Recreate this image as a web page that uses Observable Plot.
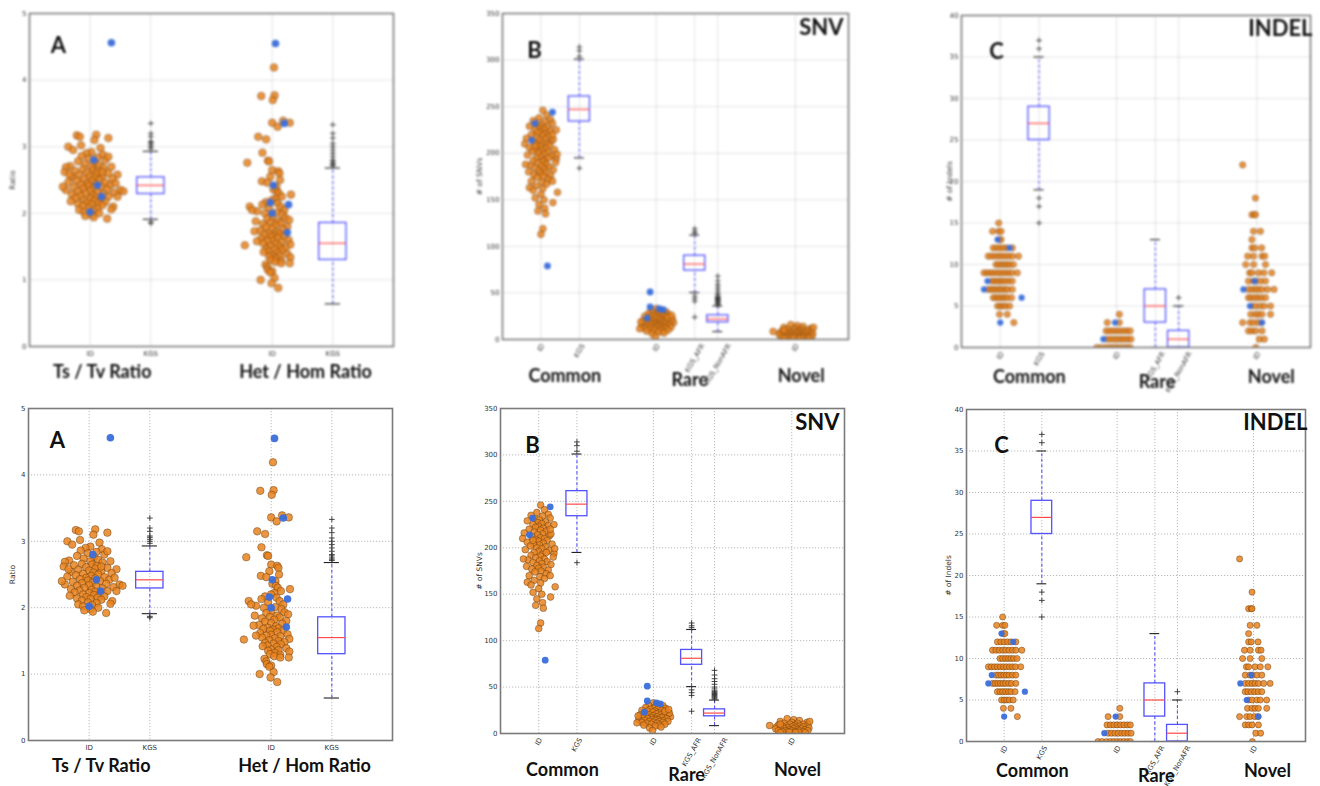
<!DOCTYPE html>
<html><head><meta charset="utf-8">
<script src="https://cdn.jsdelivr.net/npm/d3@7"></script>
<script src="https://cdn.jsdelivr.net/npm/@observablehq/plot@0.6"></script>
<style>
html,body{margin:0;padding:0;background:#fff;}
#fig{position:relative;width:1320px;height:786px;overflow:hidden;background:#fff;}
.panel{position:absolute;width:440px;height:393px;}
.blurred{filter:blur(0.8px);}
</style></head><body><div id="fig"></div>
<script>
// ---------------- DATA ----------------
// Panel A: [value, jitter]
const tstvID = [[3.00,-0.36],[3.17,-0.22],[3.18,0.10],[3.13,0.30],[3.15,-0.17],[3.10,0.07],[3.02,-0.15],[2.98,0.17],[2.95,-0.28],[2.92,0.02],[2.90,-0.06],[2.88,0.21],[2.86,-0.14],[2.84,0.12],[2.82,-0.02],[2.80,0.25],[2.78,-0.2],[2.76,0.08],[2.74,-0.09],[2.72,0.15],[2.71,-0.33],[2.70,0.02],[2.69,-0.4],[2.68,0.22],[2.66,-0.12],[2.65,0.05],[2.64,-0.25],[2.63,0.13],[2.62,-0.42],[2.61,-0.05],[2.60,0.3],[2.59,0.1],[2.58,0.45],[2.57,-0.18],[2.56,0.0],[2.55,0.2],[2.54,-0.3],[2.53,0.07],[2.52,0.37],[2.51,-0.1],[2.50,0.15],[2.49,-0.22],[2.48,0.03],[2.47,-0.36],[2.46,0.25],[2.45,-0.05],[2.44,0.1],[2.43,-0.15],[2.42,0.33],[2.41,-0.02],[2.40,0.18],[2.39,-0.27],[2.38,0.06],[2.37,-0.12],[2.36,0.28],[2.35,-0.4],[2.35,0.5],[2.34,0.0],[2.33,-0.2],[2.32,0.12],[2.31,0.4],[2.30,-0.08],[2.29,0.22],[2.28,-0.3],[2.27,0.04],[2.26,-0.16],[2.25,0.3],[2.24,0.1],[2.23,-0.24],[2.22,0.0],[2.21,0.18],[2.20,-0.1],[2.19,0.08],[2.18,-0.32],[2.17,0.25],[2.16,-0.05],[2.15,0.14],[2.14,-0.2],[2.13,0.02],[2.12,0.2],[2.11,-0.12],[2.10,0.38],[2.08,-0.02],[2.07,0.12],[2.06,0.35],[2.05,-0.18],[2.04,0.05],[2.02,-0.1],[2.00,0.15],[1.98,0.02],[1.96,-0.08],[1.94,0.06],[1.92,0.28],[2.25,0.45],[2.58,-0.34],[2.70,0.35],[2.45,0.42],[2.85,0.3],[2.62,0.2],[2.40,-0.45],[2.33,0.55]];
const tstvHighlight = [[4.56,0.35],[2.80,0.06],[2.42,0.12],[2.25,0.19],[2.02,0.0]];
const hethomID = [[4.19,0.03],[3.76,-0.18],[3.77,0.04],[3.70,0.01],[3.36,0.0],[3.39,0.18],[3.36,0.29],[3.30,0.09],[3.15,-0.23],[3.11,-0.1],[2.91,-0.16],[2.76,-0.41],[2.79,-0.07],[2.78,-0.05],[2.65,0.0],[2.63,0.1],[2.60,0.12],[2.55,-0.03],[2.50,0.13],[2.48,-0.17],[2.46,-0.08],[2.40,0.07],[2.36,0.02],[2.33,0.08],[2.30,0.11],[2.28,0.31],[2.25,0.16],[2.22,0.05],[2.20,0.0],[2.17,-0.1],[2.15,0.09],[2.13,-0.16],[2.10,-0.37],[2.10,0.14],[2.08,-0.05],[2.05,0.2],[2.03,-0.25],[2.01,0.07],[2.00,-0.12],[1.98,0.17],[1.95,0.0],[1.93,0.22],[1.92,-0.08],[1.90,0.28],[1.88,-0.27],[1.88,0.1],[1.86,-0.02],[1.85,0.14],[1.84,-0.15],[1.82,0.05],[1.80,0.25],[1.79,-0.1],[1.77,0.0],[1.76,0.18],[1.74,-0.2],[1.73,-0.29],[1.72,0.08],[1.70,-0.06],[1.69,0.12],[1.68,-0.13],[1.67,0.03],[1.66,0.2],[1.65,-0.02],[1.63,0.1],[1.62,-0.18],[1.60,0.27],[1.59,0.0],[1.58,-0.08],[1.57,0.15],[1.55,-0.15],[1.54,0.06],[1.53,0.3],[1.52,-0.45],[1.51,-0.03],[1.50,0.12],[1.48,0.22],[1.47,-0.1],[1.46,0.04],[1.45,0.16],[1.43,-0.06],[1.42,-0.14],[1.41,0.09],[1.39,0.25],[1.37,0.0],[1.36,0.12],[1.35,-0.05],[1.34,0.3],[1.32,0.06],[1.30,-0.02],[1.29,0.15],[1.27,0.05],[1.25,0.29],[1.25,0.15],[1.23,-0.11],[1.19,-0.08],[1.15,-0.07],[1.13,0.0],[1.11,-0.03],[1.03,0.04],[1.00,-0.19],[0.95,-0.01],[0.88,0.1],[2.05,-0.33],[1.58,-0.25]];
const hethomHighlight = [[4.55,0.055],[3.35,0.2],[2.42,0.02],[2.16,-0.03],[2.13,0.27],[2.00,0.0],[1.71,0.25]];
// box stats: [lower whisker, Q1, median, Q3, upper whisker]
const tstvKGS = [1.91, 2.29, 2.42, 2.54, 2.93];
const tstvKGSOutliers = [2.97, 3.0, 3.03, 3.06, 3.08, 3.15, 3.2, 3.35, 1.87, 1.85];
const hethomKGS = [0.64, 1.30, 1.55, 1.855, 2.68];
const hethomKGSOutliers = [2.71, 2.73, 2.75, 2.78, 2.8, 2.85, 2.9, 2.95, 3.0, 3.05, 3.13, 3.2, 3.33];

// Panel B (SNV)
const commonSnvID = [[246,0.05],[241,0.15],[238,-0.05],[236,0.25],[235,-0.2],[234,0.1],[232,0.3],[231,-0.1],[230,0.02],[229,-0.3],[228,0.18],[227,-0.02],[226,0.08],[225,-0.15],[224,0.25],[223,0.0],[222,-0.08],[221,0.12],[220,-0.25],[219,0.05],[218,0.2],[217,-0.12],[216,-0.38],[215,0.1],[214,-0.03],[213,0.28],[212,-0.18],[211,0.04],[210,-0.42],[210,0.15],[209,-0.08],[208,0.22],[207,0.0],[206,-0.3],[205,0.12],[204,-0.14],[204,0.35],[203,0.02],[202,-0.22],[201,0.18],[200,-0.05],[199,0.08],[198,-0.35],[197,0.28],[196,0.0],[195,-0.12],[194,0.4],[193,0.1],[192,-0.2],[191,0.05],[190,0.38],[189,-0.08],[188,0.15],[187,-0.28],[186,0.02],[185,0.22],[184,-0.15],[183,0.08],[182,0.32],[181,-0.05],[180,-0.32],[179,0.12],[178,0.0],[177,-0.18],[176,0.25],[175,0.06],[174,-0.1],[172,0.2],[170,-0.25],[169,0.03],[167,0.15],[165,-0.12],[163,-0.3],[162,0.05],[160,-0.2],[158,0.43],[156,0.0],[152,-0.15],[150,0.08],[147,0.31],[145,-0.05],[141,0.1],[138,-0.08],[135,0.12],[119,0.05],[113,0.0],[199,0.42],[215,0.32],[225,0.4],[188,-0.4],[170,0.3],[195,0.2],[208,-0.15],[220,0.3]];
const commonSnvHighlight = [[244,0.3],[232,-0.16],[214,-0.24],[79,0.17]];
const rareSnvID = [[33,0.0],[31,0.1],[30,-0.12],[30,0.25],[29,0.05],[28,-0.2],[28,0.18],[27,0.0],[27,0.32],[26,-0.08],[26,0.12],[25,-0.3],[25,0.22],[24,0.04],[24,-0.15],[23,0.3],[23,-0.02],[22,0.14],[22,-0.22],[21,0.08],[21,0.4],[20,-0.1],[20,0.2],[20,-0.35],[19,0.0],[19,0.28],[18,-0.18],[18,0.1],[18,0.45],[17,-0.05],[17,0.22],[17,-0.28],[16,0.05],[16,0.35],[16,-0.15],[15,0.12],[15,-0.38],[15,-0.02],[14,0.25],[14,-0.22],[14,0.06],[13,-0.1],[13,0.16],[13,0.38],[12,-0.3],[12,0.0],[12,0.25],[11.5,-0.43],[11,0.1],[11,-0.18],[10,0.3],[10,-0.05],[9,0.15],[9,-0.25],[8,0.05],[7,0.2],[6,-0.1],[3.2,-0.02],[22,0.42],[19,-0.4],[24,0.3],[26,0.4]];
const rareSnvHighlight = [[51,-0.16],[35,-0.16],[33,0.08],[32,0.18],[23,-0.24]];
const novelSnvID = [[8.6,-0.58],[16,-0.12],[15,0.05],[14,0.2],[13,-0.3],[12,0.4],[12,0.0],[11,-0.2],[11,0.15],[10,0.3],[10,-0.05],[9,-0.35],[9,0.1],[9,0.42],[8,-0.15],[8,0.22],[8,0.05],[7,-0.4],[7,0.0],[7,0.3],[7,-0.22],[6,0.12],[6,-0.1],[6,0.45],[6,-0.3],[5,0.05],[5,0.25],[5,-0.2],[5,-0.42],[4,0.15],[4,-0.05],[4,0.35],[4,-0.28],[3,0.0],[3,0.2],[3,-0.15],[3,0.42],[3,-0.35],[2,0.08],[2,-0.1],[2,0.3],[2,-0.25],[1.5,0.18],[1.5,-0.05],[1,0.35],[1,-0.3],[1,0.1],[13,0.47],[10,-0.3]];
const commonSnvKGS = [195, 234, 247, 261, 301];
const commonSnvKGSOutliers = [304, 310, 314, 184];
const rareSnvAFR = [50.5, 74, 81, 90, 112];
const rareSnvAFROutliers = [114, 116, 119, 47, 44, 41, 24];
const rareSnvNonAFR = [8.5, 18.5, 22, 26, 36];
const rareSnvNonAFROutliers = [37, 38, 39, 40, 41, 42, 43, 44, 45, 46, 48, 50, 53, 56, 59, 63, 68];

// Panel C (INDEL)
const commonIndelID = [[15,-0.04],[14,-0.2],[14,-0.04],[14,0.02],[13,-0.02],[13,0.02],
 [12,-0.18],[12,-0.09],[12,0.0],[12,0.09],[12,0.18],[12,0.31],
 [11,-0.31],[11,-0.22],[11,-0.13],[11,-0.04],[11,0.04],[11,0.13],[11,0.22],[11,0.31],[11,0.47],
 [10,-0.11],[10,-0.04],[10,0.04],[10,0.11],[10,0.18],[10,0.25],[10,0.34],
 [9,-0.42],[9,-0.34],[9,-0.26],[9,-0.18],[9,-0.1],[9,-0.02],[9,0.06],[9,0.14],[9,0.22],[9,0.3],[9,0.44],
 [8,-0.22],[8,-0.15],[8,-0.08],[8,-0.01],[8,0.06],[8,0.13],[8,0.22],[8,0.31],
 [7,-0.31],[7,-0.24],[7,-0.17],[7,-0.1],[7,-0.03],[7,0.04],[7,0.12],[7,0.19],[7,0.31],
 [6,-0.18],[6,-0.11],[6,-0.04],[6,0.04],[6,0.11],[6,0.18],[6,0.29],
 [5,-0.07],[5,0.0],[5,0.07],[5,0.14],[5,0.24],[4,-0.02],[4,0.18],[3,0.35]];
const commonIndelHighlight = [[13,-0.07],[12,0.24],[8,-0.33],[7,-0.42],[6,0.55],[3,0.0]];
const rareIndelID = [[4,0.07],[3,-0.24],[3,0.07],
 [2,-0.27],[2,-0.18],[2,-0.09],[2,0.0],[2,0.09],[2,0.18],[2,0.27],[2,0.35],
 [1,-0.24],[1,-0.15],[1,-0.06],[1,0.03],[1,0.12],[1,0.2],[1,0.29],[1,0.37],
 [0,-0.51],[0,-0.4],[0,-0.28],[0,-0.18],[0,-0.09],[0,0.0],[0,0.09],[0,0.18],[0,0.27],[0,0.35]];
const rareIndelHighlight = [[3,-0.04],[1,-0.34]];
const novelIndelID = [[22,-0.37],[18,-0.04],[16,-0.13],[16,-0.06],[16,-0.04],[14,-0.09],[14,0.09],[13,-0.13],
 [12,-0.13],[12,-0.06],[12,0.12],[11,-0.24],[11,-0.09],[11,0.13],[11,0.2],[10,-0.29],[10,-0.09],[10,0.22],
 [9,-0.19],[9,-0.13],[9,0.04],[9,0.18],[9,0.38],[8,-0.22],[8,-0.09],[8,-0.03],[8,0.09],[8,0.22],
 [7,-0.22],[7,-0.13],[7,-0.04],[7,0.04],[7,0.13],[7,0.27],[7,0.44],
 [6,-0.22],[6,-0.15],[6,-0.06],[6,0.03],[6,0.12],[6,0.22],
 [5,-0.13],[5,-0.04],[5,0.09],[5,0.18],[5,0.35],[4,-0.16],[4,-0.04],[4,0.04],[4,0.13],[4,0.35],
 [3,-0.37],[3,-0.18],[3,-0.09],[3,0.03],[3,0.12],[2,-0.22],[2,-0.13],[2,-0.04],[2,0.13],[1,0.06],[1,0.19],[0,-0.03]];
const novelIndelHighlight = [[8,-0.06],[7,-0.35],[5,-0.18],[3,0.13]];
const commonIndelKGS = [19, 25, 27, 29, 35];
const commonIndelKGSOutliers = [36, 37, 18, 17, 15];
const rareIndelAFR = [0, 3, 5, 7, 13];
const rareIndelAFROutliers = [];
const rareIndelNonAFR = [0, 0, 1, 2, 5];
const rareIndelNonAFROutliers = [6];

// tick labels and titles
const tickLabelsA = ["ID", "KGS", "ID", "KGS"];
const tickLabelsBC = ["ID", "KGS", "ID", "KGS_AFR", "KGS_NonAFR", "ID"];
const groupLabelsA = ["Ts / Tv Ratio", "Het / Hom Ratio"];
const groupLabelsBC = ["Common", "Rare", "Novel"];
const yTicksA = [0, 1, 2, 3, 4, 5];
const yTicksB = [0, 50, 100, 150, 200, 250, 300, 350];
const yTicksC = [0, 5, 10, 15, 20, 25, 30, 35, 40];

// ---------------- LAYOUT ----------------
const ORANGE = "#e8831f", BLUE = "#3a6edb", BOXBLUE = "#5252ff", MEDRED = "#ff4a4a";
const posA = [1, 2, 4, 5], posBC = [1, 2, 4, 5, 5.6, 7.62];

const panels = {
  A: {xDomain: [0, 6], yDomain: [0, 5], yTicks: yTicksA, ticks: posA, tickLabels: tickLabelsA, rotate: false,
      yLabel: "Ratio", letter: "A", letterDx: 29, letterDy: 32, r: 3.8, bw: 0.225, cw: 0.125,
      scatter: [{pos: 1, pts: tstvID, hi: tstvHighlight}, {pos: 4, pts: hethomID, hi: hethomHighlight}],
      boxes: [{pos: 2, s: tstvKGS, out: tstvKGSOutliers}, {pos: 5, s: hethomKGS, out: hethomKGSOutliers}],
      groups: [{x: 1.2, label: groupLabelsA[0], rare: false}, {x: 4.55, label: groupLabelsA[1], rare: false}]},
  B: {xDomain: [0, 9], yDomain: [0, 350], yTicks: yTicksB, ticks: posBC, tickLabels: tickLabelsBC, rotate: true,
      yLabel: "# of SNVs", letter: "B", letterDx: 32, letterDy: 37, corner: "SNV", cornerDx: -5, cornerDy: 14, r: 3.4, bw: 0.275, cw: 0.13,
      scatter: [{pos: 1, pts: commonSnvID, hi: commonSnvHighlight}, {pos: 4, pts: rareSnvID, hi: rareSnvHighlight}, {pos: 7.62, pts: novelSnvID, hi: []}],
      boxes: [{pos: 2, s: commonSnvKGS, out: commonSnvKGSOutliers}, {pos: 5, s: rareSnvAFR, out: rareSnvAFROutliers}, {pos: 5.6, s: rareSnvNonAFR, out: rareSnvNonAFROutliers}],
      groups: [{x: 1.62, label: groupLabelsBC[0]}, {x: 4.87, label: groupLabelsBC[1], rare: true}, {x: 7.77, label: groupLabelsBC[2]}]},
  C: {xDomain: [0, 9], yDomain: [0, 40], yTicks: yTicksC, ticks: posBC, tickLabels: tickLabelsBC, rotate: true,
      yLabel: "# of Indels", letter: "C", letterDx: 35, letterDy: 36, corner: "INDEL", cornerDx: 2, cornerDy: 13, r: 3.1, bw: 0.275, cw: 0.13,
      scatter: [{pos: 1, pts: commonIndelID, hi: commonIndelHighlight}, {pos: 4, pts: rareIndelID, hi: rareIndelHighlight}, {pos: 7.62, pts: novelIndelID, hi: novelIndelHighlight}],
      boxes: [{pos: 2, s: commonIndelKGS, out: commonIndelKGSOutliers}, {pos: 5, s: rareIndelAFR, out: rareIndelAFROutliers}, {pos: 5.6, s: rareIndelNonAFR, out: rareIndelNonAFROutliers}],
      groups: [{x: 1.75, label: groupLabelsBC[0]}, {x: 5.04, label: groupLabelsBC[1], rare: true}, {x: 7.99, label: groupLabelsBC[2]}]}
};

const placements = [
  {key: "A", left: 0,   top: 0,   blur: true,  m: [13, 47, 47, 29], gdy: 26, rdy: 26, ylDx: -17},
  {key: "B", left: 440, top: 0,   blur: true,  m: [13, 32, 54, 62], gdy: 37, rdy: 41, ylDx: -23},
  {key: "C", left: 880, top: 0,   blur: true,  m: [15, 10, 46, 81], gdy: 30, rdy: 35, ylDx: -12},
  {key: "A", left: 0,   top: 393, blur: false, m: [15, 48, 46, 28], gdy: 26, rdy: 26, ylDx: -16},
  {key: "B", left: 440, top: 393, blur: false, m: [15, 36, 53, 60], gdy: 37, rdy: 42, ylDx: -21},
  {key: "C", left: 880, top: 393, blur: false, m: [16, 15, 45, 86], gdy: 30, rdy: 35, ylDx: -18}
];

const ctx = document.createElement("canvas").getContext("2d");
ctx.font = "7px 'DejaVu Sans'";
const TICKFONT = "DejaVu Sans", TITLEFONT = "Lato";

function makePanel(cfg, pl) {
  const grid = {stroke: "#a8a8a8", strokeOpacity: 1, strokeDasharray: "1.2,1.8", strokeWidth: 0.8};
  const marks = [
    Plot.gridY(cfg.yTicks, grid),
    Plot.gridX(cfg.ticks, grid)
  ];
  const boxRows = cfg.boxes.map(b => ({pos: b.pos, lo: b.s[0], q1: b.s[1], med: b.s[2], q3: b.s[3], hi: b.s[4]}));
  const outRows = cfg.boxes.flatMap(b => b.out.map(v => ({pos: b.pos, v})));
  const bw = cfg.bw, cw = cfg.cw;
  marks.push(
    Plot.ruleX(boxRows, {x: "pos", y1: "q3", y2: "hi", stroke: BOXBLUE, strokeWidth: 1.1, strokeDasharray: "3,2.5"}),
    Plot.ruleX(boxRows, {x: "pos", y1: "lo", y2: "q1", stroke: BOXBLUE, strokeWidth: 1.1, strokeDasharray: "3,2.5"}),
    Plot.ruleY(boxRows, {y: "hi", x1: d => d.pos - cw, x2: d => d.pos + cw, stroke: "#222", strokeWidth: 1.1}),
    Plot.ruleY(boxRows, {y: "lo", x1: d => d.pos - cw, x2: d => d.pos + cw, stroke: "#222", strokeWidth: 1.1}),
    Plot.rect(boxRows, {x1: d => d.pos - bw, x2: d => d.pos + bw, y1: "q1", y2: "q3", fill: "none", stroke: BOXBLUE, strokeWidth: 1.3}),
    Plot.ruleY(boxRows, {y: "med", x1: d => d.pos - bw, x2: d => d.pos + bw, stroke: MEDRED, strokeWidth: 1.2}),
    Plot.dot(outRows, {x: "pos", y: "v", symbol: "plus", r: 2.0, stroke: "#333", strokeWidth: 0.9})
  );
  for (const s of cfg.scatter) {
    marks.push(Plot.dot(s.pts, {x: d => s.pos + d[1], y: d => d[0], r: cfg.r, fill: ORANGE, fillOpacity: 0.85,
      stroke: "#4a2e0c", strokeOpacity: 0.55, strokeWidth: 0.7, clip: true}));
  }
  for (const s of cfg.scatter) {
    marks.push(Plot.dot(s.hi, {x: d => s.pos + d[1], y: d => d[0], r: cfg.r, fill: BLUE, fillOpacity: 0.95, clip: true}));
  }
  marks.push(Plot.frame({stroke: "#7a7a7a", strokeWidth: 1.6}));
  marks.push(Plot.axisY(cfg.yTicks, {tickSize: 0, tickPadding: 3, fontSize: 7, label: null, color: "#333",
    fontFamily: TICKFONT, tickFormat: d => String(d)}));
  // x tick labels
  cfg.ticks.forEach((p, i) => {
    const t = cfg.tickLabels[i];
    if (cfg.rotate) {
      const w = ctx.measureText(t).width;
      marks.push(Plot.text([t], {x: () => p, text: d => d, frameAnchor: "bottom", rotate: -60, textAnchor: "middle",
        lineAnchor: "middle", dy: 5 + 0.433 * w, fontSize: 7, fontFamily: TICKFONT, fill: "#333"}));
    } else {
      marks.push(Plot.text([t], {x: () => p, text: d => d, frameAnchor: "bottom", textAnchor: "middle",
        lineAnchor: "middle", dy: 7, fontSize: 7, fontFamily: TICKFONT, fill: "#333"}));
    }
  });
  // group labels
  for (const g of cfg.groups) {
    marks.push(Plot.text([g.label], {x: () => g.x, text: d => d, frameAnchor: "bottom", textAnchor: "middle", lineAnchor: "middle",
      dy: g.rare ? pl.rdy : pl.gdy, fontSize: 18, fontWeight: "bold", fontFamily: TITLEFONT, fill: "#111"}));
  }
  // y label
  marks.push(Plot.text([cfg.yLabel], {frameAnchor: "left", text: d => d, rotate: -90, textAnchor: "middle", lineAnchor: "middle",
    dx: pl.ylDx, fontSize: 7.5, fontFamily: TICKFONT, fill: "#333"}));
  // panel letter and corner label
  marks.push(Plot.text([cfg.letter], {frameAnchor: "top-left", text: d => d, textAnchor: "middle", lineAnchor: "middle",
    dx: cfg.letterDx, dy: cfg.letterDy, fontSize: 22, fontWeight: "bold", fontFamily: TITLEFONT, fill: "#111"}));
  if (cfg.corner) {
    marks.push(Plot.text([cfg.corner], {frameAnchor: "top-right", text: d => d, textAnchor: "end", lineAnchor: "middle",
      dx: cfg.cornerDx, dy: cfg.cornerDy, fontSize: 22, fontWeight: "bold", fontFamily: TITLEFONT, fill: "#111"}));
  }
  return Plot.plot({
    width: 440, height: 393,
    marginTop: pl.m[0], marginRight: pl.m[1], marginBottom: pl.m[2], marginLeft: pl.m[3],
    x: {domain: cfg.xDomain, axis: null},
    y: {domain: cfg.yDomain, axis: null},
    style: {background: "transparent", overflow: "visible", fontFamily: TICKFONT},
    marks
  });
}

const fig = document.getElementById("fig");
for (const pl of placements) {
  const div = document.createElement("div");
  div.className = "panel" + (pl.blur ? " blurred" : "");
  div.style.left = pl.left + "px";
  div.style.top = pl.top + "px";
  div.appendChild(makePanel(panels[pl.key], pl));
  fig.appendChild(div);
}
</script>
</body></html>
